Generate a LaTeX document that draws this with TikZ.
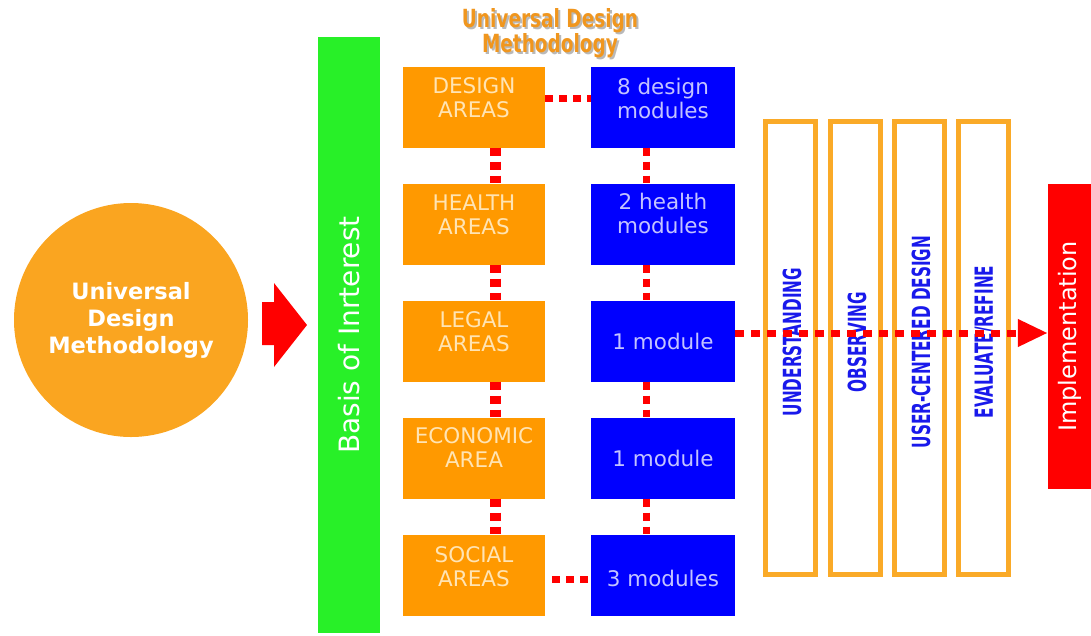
\documentclass[tikz,border=0pt]{standalone}
\usepackage{fontspec}
\setmainfont{DejaVu Sans}
\usepackage{graphicx}
\usetikzlibrary{positioning,arrows.meta}
\definecolor{circorange}{RGB}{250,165,32}
\definecolor{boxorange}{RGB}{255,153,0}
\definecolor{boxblue}{RGB}{0,0,255}
\definecolor{basisgreen}{RGB}{40,240,40}
\definecolor{linkred}{RGB}{255,0,0}
\definecolor{stageorange}{RGB}{250,170,40}
\definecolor{stageblue}{RGB}{25,25,235}
\definecolor{areatext}{RGB}{255,228,180}
\definecolor{modtext}{RGB}{195,195,255}
\definecolor{titleorange}{RGB}{240,150,30}
\newcommand{\narrowtext}[2]{\scalebox{#1}[1]{#2}}
\tikzset{
  areabox/.style={fill=boxorange, minimum width=142pt, minimum height=81pt},
  modbox/.style={fill=boxblue, minimum width=144pt, minimum height=81pt},
  boxtext/.style={align=center, font=\fontsize{21.5}{24}\selectfont},
  link/.style={draw=linkred, line width=7pt, dash pattern=on 8pt off 6pt},
  stagebox/.style={draw=stageorange, line width=5pt, minimum width=50pt, minimum height=453pt},
  stagetext/.style={text=stageblue, font=\bfseries\fontsize{25}{25}\selectfont, inner sep=0pt},
  titletext/.style={align=center, font=\bfseries\fontsize{25}{24}\selectfont},
}
\begin{document}
\begin{tikzpicture}[x=1pt,y=-1pt]
	\useasboundingbox (0,0) rectangle (1091,635);

	\node[circle, fill=circorange, minimum size=234pt, text=white, align=center,
		font=\bfseries\fontsize{22.5}{27}\selectfont] (udm) at (131,320) {Universal\\Design\\Methodology};
	\fill[linkred] (262,302) -- (274,302) -- (274,283) -- (307,325) -- (274,367) -- (274,345) -- (262,345) -- cycle;

	\node[fill=basisgreen, minimum width=62pt, minimum height=596pt, text=white,
		font=\fontsize{28}{28}\selectfont] (basis) at (349,335) {\rotatebox{90}{Basis of Inrterest}};

	\node[titletext, text=gray!55] (titleshadow) at (552,35)
		{\narrowtext{0.74}{Universal Design}\\\narrowtext{0.74}{Methodology}};
	\node[titletext, text=titleorange] (title) at (550,33)
		{\narrowtext{0.74}{Universal Design}\\\narrowtext{0.74}{Methodology}};

	\foreach \i/\y/\area/\adj/\mods/\mdj in {
		1/107/{DESIGN\\AREAS}/9/{8 design\\modules}/9,
		2/224/{HEALTH\\AREAS}/9/{2 health\\modules}/11,
		3/341/{LEGAL\\AREAS}/9/{1 module}/0,
		4/458/{ECONOMIC\\AREA}/10/{1 module}/0,
		5/575/{SOCIAL\\AREAS}/8/{3 modules}/-3}{
		\node[areabox] (a\i) at (474,\y) {};
		\node[boxtext, text=areatext] at ([yshift=\adj pt]a\i.center) {\area};
		\node[modbox] (m\i) at (663,\y) {};
		\node[boxtext, text=modtext] at ([yshift=\mdj pt]m\i.center) {\mods};
	}

	\foreach \i [count=\j from 2] in {1,...,4}{
		\draw[link, line width=11pt] ([xshift=21pt]a\i.south) -- ([xshift=21pt]a\j.north);
		\draw[link] ([xshift=-17pt]m\i.south) -- ([xshift=-17pt]m\j.north);
	}
	\draw[link] ([yshift=9pt]a1.east) -- ([yshift=9pt]a1.east -| m1.west);
	\draw[link, shorten <=7pt] ([yshift=-4pt]a5.east) -- ([yshift=-4pt]a5.east -| m5.west);

	\foreach \x/\stage [count=\k] in {790/UNDERSTANDING, 855/OBSERVING, 919/{USER-CENTERED DESIGN}, 983/{EVALUATE/REFINE}}{
		\node[stagebox] (s\k) at (\x,348) {};
		\node[stagetext, rotate=90] at (\x+2,342) {\narrowtext{0.61}{\stage}};
	}

	\node[fill=linkred, minimum width=43pt, minimum height=305pt, text=white,
		font=\fontsize{24}{24}\selectfont] (impl) at (1069.5,336.5) {\rotatebox{90}{Implementation}};

	\draw[link, dash pattern=on 9pt off 7pt, -{Triangle[length=30pt,width=26pt]}]
		([yshift=8pt]m3.east) -- ([yshift=8pt]m3.east -| impl.west);
\end{tikzpicture}
\end{document}
